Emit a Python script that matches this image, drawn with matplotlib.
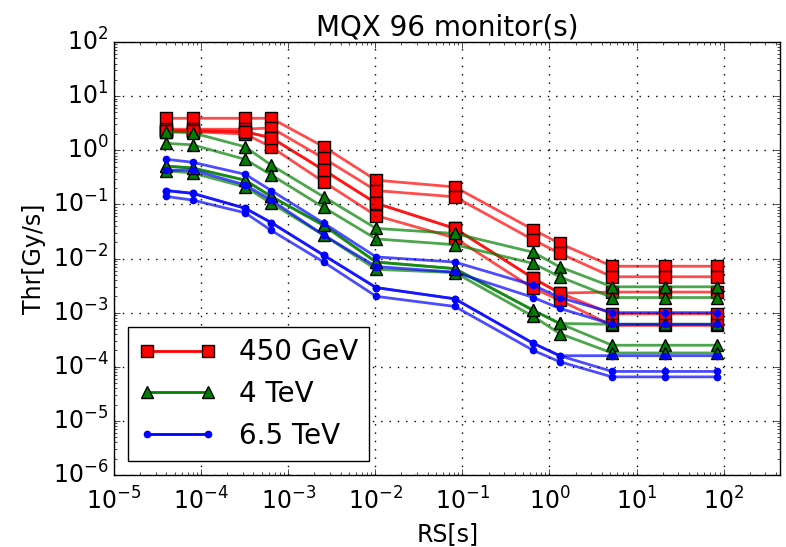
import matplotlib
matplotlib.use("Agg")
import matplotlib.pyplot as plt

plt.style.use("classic")

# running sums [s]
rs = [4e-5, 8e-5, 3.2e-4, 6.4e-4, 2.56e-3, 1.024e-2, 8.192e-2,
      0.65536, 1.31072, 5.24288, 20.97152, 83.88608]

# thresholds [Gy/s], one row per threshold family
thr_450GeV = [
    [3.9, 3.9, 3.9, 3.9, 1.16, 0.28, 0.21, 0.034, 0.019, 0.0072, 0.0072, 0.0072],
    [2.45, 2.45, 2.45, 2.6, 0.71, 0.18, 0.138, 0.022, 0.0125, 0.0046, 0.0046, 0.0046],
    [2.3, 2.3, 2.2, 1.7, 0.43, 0.105, 0.036, 0.0043, 0.0023, 9.5e-4, 9.5e-4, 9.5e-4],
    [2.2, 2.2, 2.0, 1.15, 0.26, 0.062, 0.024, 0.0028, 0.0017, 5.8e-4, 5.8e-4, 5.8e-4],
    [2.3, 2.3, 2.2, 1.7, 0.43, 0.105, 0.036, 0.0043, 0.0023, 0.0024, 0.0024, 0.0024],
]
thr_4TeV = [
    [2.2, 2.1, 1.16, 0.53, 0.138, 0.036, 0.029, 0.013, 0.0070, 0.0030, 0.0030, 0.0030],
    [1.34, 1.26, 0.68, 0.35, 0.088, 0.023, 0.018, 0.0081, 0.0046, 0.0019, 0.0019, 0.0019],
    [0.51, 0.47, 0.28, 0.14, 0.041, 0.0086, 0.0065, 0.0011, 6.3e-4, 2.5e-4, 2.5e-4, 2.5e-4],
    [0.42, 0.38, 0.21, 0.105, 0.027, 0.0063, 0.0055, 8.5e-4, 4.1e-4, 1.8e-4, 1.8e-4, 1.8e-4],
    [0.51, 0.47, 0.28, 0.14, 0.041, 0.0086, 0.0065, 0.0011, 6.3e-4, 6.1e-4, 6.1e-4, 6.1e-4],
]
thr_6p5TeV = [
    [0.68, 0.60, 0.36, 0.18, 0.045, 0.0107, 0.0086, 0.0032, 0.0019, 0.0010, 0.0010, 0.0010],
    [0.43, 0.43, 0.23, 0.12, 0.027, 0.0071, 0.0056, 0.0019, 0.0012, 6.1e-4, 6.1e-4, 6.1e-4],
    [0.18, 0.16, 0.085, 0.046, 0.0115, 0.0029, 0.0018, 2.7e-4, 1.6e-4, 8.2e-5, 8.2e-5, 8.2e-5],
    [0.14, 0.12, 0.07, 0.033, 0.0086, 0.0020, 0.0013, 2.0e-4, 1.24e-4, 6.5e-5, 6.5e-5, 6.5e-5],
    [0.18, 0.16, 0.085, 0.046, 0.0115, 0.0029, 0.0018, 2.7e-4, 1.6e-4, 1.6e-4, 1.6e-4, 1.6e-4],
]

series = [
    ("450 GeV", thr_450GeV, (1, 0, 0), "s", 9, "k"),
    ("4 TeV", thr_4TeV, (0, 0.5, 0), "^", 9, "k"),
    ("6.5 TeV", thr_6p5TeV, (0, 0, 1), "o", 4.5, (0, 0, 1)),
]

fig = plt.figure(figsize=(7.86, 5.47), dpi=100)
ax = fig.add_axes([0.145, 0.1316, 0.848, 0.7916])

for label, rows, col, mk, ms, mec in series:
    for i, row in enumerate(rows):
        ax.plot(rs, row, color=col + (0.7,), lw=2, marker=mk, ms=ms,
                mfc=col, mec=mec, mew=1,
                label=label if i == 0 else "_nolegend_")

ax.set_xscale("log")
ax.set_yscale("log")
ax.set_xlim(1e-5, 450)
ax.set_ylim(1e-6, 1e2)
ax.grid(True, which="major", color="k", linestyle=(0, (1, 5)), linewidth=1)
ax.tick_params(labelsize=17)
ax.tick_params(axis="x", which="major", pad=9)
ax.set_title("MQX 96 monitor(s)", fontsize=20)
ax.set_xlabel("RS[s]", fontsize=17)
ax.set_ylabel("Thr[Gy/s]", fontsize=17)
leg = ax.legend(loc="lower left", fontsize=20, numpoints=2, handlelength=2.8)
for h in leg.get_lines():
    h.set_color(h.get_markerfacecolor())

fig.savefig("out.png", dpi=100)
